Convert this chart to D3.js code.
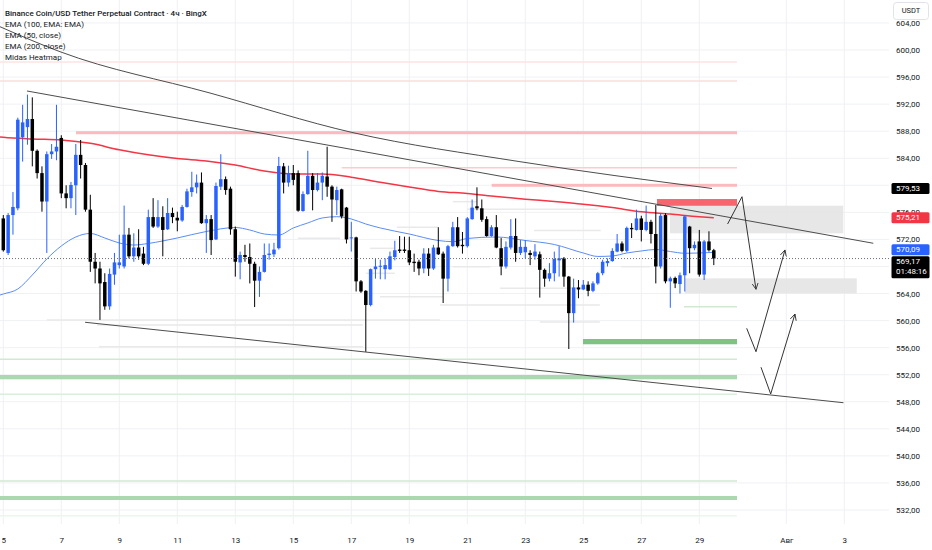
<!DOCTYPE html>
<html>
<head>
<meta charset="utf-8">
<script src="https://cdn.jsdelivr.net/npm/d3@7"></script>
<style>
  body { margin: 0; background: #fff; }
  svg { display: block; font-family: Roboto, "Noto Sans", sans-serif; }
</style>
</head>
<body>
<svg id="chart" width="932" height="550"></svg>
<script>
// 4h candles, first one opens 5 July 00:00 (day value = July date, fractional)
const firstDay = 5
const candleStep = 1 / 6

const opens = [
  575.1, 570.0, 575.6, 576.6, 587.1, 588.6, 589.8, 585.1, 581.8, 577.6,
  584.6, 585.0, 587.0, 578.8, 578.1, 580.0, 584.5, 583.0, 576.4, 568.7,
  567.7, 565.7, 562.1, 566.8, 568.2, 568.0, 572.7, 569.5, 570.8, 569.9,
  568.4, 575.3, 573.9, 575.3, 573.5, 575.9, 575.2, 574.8, 576.8, 579.0,
  579.7, 580.4, 574.4, 575.0, 572.0, 579.8, 580.9, 579.5, 573.5, 568.6,
  569.7, 569.4, 568.4, 565.9, 567.2, 569.7, 569.8, 570.7, 582.8, 580.4,
  581.8, 581.8, 576.2, 578.7, 581.4, 579.3, 580.4, 581.3, 579.8, 577.8,
  579.4, 576.7, 572.2, 572.3, 565.8, 564.4, 562.3, 567.6, 568.0, 567.6,
  567.6, 569.4, 570.5, 570.5, 570.4, 568.7, 568.7, 567.7, 569.9, 567.7,
  570.8, 569.9, 566.2, 571.0, 573.8, 571.2, 571.0, 575.0, 576.9, 576.6,
  575.0, 572.5, 573.8, 570.7, 568.0, 570.8, 572.5, 570.0, 570.1, 570.0,
  569.5, 569.8, 567.5, 566.2, 567.0, 568.9, 569.2, 566.5, 561.1, 564.9,
  564.6, 565.3, 564.4, 565.5, 567.0, 568.5, 568.8, 570.2, 571.4, 570.3,
  573.7, 573.4, 575.1, 573.4, 574.6, 572.8, 568.0, 575.6, 565.8, 566.3,
  565.4, 566.7, 573.9, 570.7, 571.7, 566.8, 571.7, 570.4
]
const highs = [
  575.6, 575.9, 579.0, 590.0, 591.9, 593.4, 593.0, 585.3, 582.8, 585.0,
  586.1, 591.9, 587.4, 580.0, 580.5, 586.1, 586.7, 583.3, 578.6, 570.0,
  568.7, 567.0, 567.7, 570.0, 572.7, 577.0, 573.7, 572.9, 573.5, 570.9,
  576.4, 578.1, 577.8, 576.9, 578.1, 576.7, 576.1, 577.1, 579.5, 582.0,
  581.6, 581.9, 575.6, 575.6, 580.4, 584.6, 581.3, 579.8, 573.9, 570.2,
  571.2, 571.4, 568.7, 568.0, 571.4, 571.4, 571.5, 584.2, 583.3, 582.9,
  583.0, 582.2, 579.1, 585.1, 581.8, 581.8, 581.9, 585.7, 580.0, 579.8,
  579.5, 576.8, 574.6, 572.4, 566.0, 564.5, 567.7, 569.1, 569.0, 569.2,
  570.2, 571.8, 572.5, 572.4, 572.4, 569.9, 569.0, 570.7, 570.7, 571.2,
  573.8, 570.2, 571.2, 574.6, 575.3, 573.1, 575.3, 577.9, 579.7, 577.9,
  575.4, 574.1, 575.6, 572.2, 571.7, 575.0, 575.1, 571.9, 571.9, 570.4,
  571.3, 570.2, 567.7, 568.5, 570.2, 571.0, 569.4, 566.6, 566.2, 566.0,
  566.0, 565.8, 565.8, 567.2, 569.0, 569.2, 570.7, 572.8, 571.7, 573.9,
  574.4, 576.4, 575.5, 577.0, 574.9, 577.1, 575.9, 575.9, 566.5, 566.5,
  567.1, 575.6, 574.0, 571.7, 573.4, 571.9, 573.2, 570.6
]
const lows = [
  570.2, 569.7, 572.7, 576.3, 583.5, 586.0, 582.8, 581.0, 576.1, 570.0,
  583.9, 583.7, 578.1, 576.6, 576.6, 575.6, 581.0, 576.1, 567.2, 565.5,
  560.1, 561.6, 561.6, 565.3, 567.7, 567.7, 569.2, 568.7, 569.0, 568.2,
  568.2, 573.7, 573.7, 569.5, 573.4, 574.4, 573.2, 574.6, 576.7, 578.3,
  578.8, 574.3, 570.0, 569.7, 571.9, 579.3, 578.6, 572.7, 566.5, 566.1,
  568.7, 565.5, 562.0, 563.5, 567.1, 569.0, 569.4, 570.5, 578.8, 579.8,
  580.0, 576.1, 576.1, 578.6, 576.3, 579.1, 577.8, 578.3, 574.6, 575.6,
  575.1, 571.4, 570.2, 564.3, 564.1, 555.4, 562.1, 566.2, 566.1, 566.1,
  567.5, 568.9, 570.0, 570.0, 568.2, 567.2, 566.7, 567.0, 566.6, 567.5,
  569.7, 562.6, 564.3, 570.9, 570.8, 569.9, 570.8, 574.9, 576.3, 574.6,
  572.4, 572.4, 570.7, 566.7, 567.7, 570.5, 568.7, 569.7, 569.2, 568.2,
  569.0, 563.4, 565.0, 565.8, 565.8, 566.5, 565.0, 555.8, 559.7, 563.3,
  564.5, 563.6, 564.2, 565.3, 566.7, 568.0, 568.7, 570.1, 570.1, 570.1,
  572.2, 573.3, 571.7, 573.2, 571.4, 565.5, 567.7, 565.5, 561.9, 564.8,
  564.0, 564.3, 567.0, 570.4, 566.5, 566.0, 570.2, 568.2
]
const closes = [
  570.4, 575.6, 576.8, 589.7, 589.3, 589.8, 585.1, 581.8, 577.6, 584.6,
  585.0, 585.7, 578.8, 578.1, 580.05, 584.5, 583.0, 576.4, 568.7, 567.7,
  565.5, 562.1, 566.9, 568.6, 568.6, 572.7, 569.5, 570.8, 569.5, 568.4,
  575.3, 573.9, 575.3, 573.4, 575.9, 575.3, 574.8, 576.8, 579.1, 579.7,
  580.4, 574.4, 575.0, 571.9, 579.9, 580.9, 579.3, 573.5, 568.7, 569.7,
  569.4, 568.4, 565.9, 567.2, 569.7, 569.9, 570.5, 582.85, 580.4, 581.8,
  580.8, 576.25, 578.7, 581.4, 579.3, 580.4, 581.4, 579.8, 577.9, 579.3,
  575.4, 572.0, 572.3, 565.8, 564.3, 562.3, 567.6, 568.0, 568.1, 568.2,
  569.5, 570.4, 570.3, 570.3, 568.6, 568.5, 567.7, 569.9, 567.7, 570.8,
  569.8, 566.2, 571.0, 573.8, 571.0, 571.0, 575.1, 576.7, 576.6, 574.9,
  572.5, 573.8, 570.8, 568.0, 570.9, 572.5, 570.0, 570.9, 570.9, 569.7,
  570.2, 567.5, 566.2, 567.0, 569.1, 569.2, 566.5, 561.1, 564.9, 564.6,
  565.3, 564.4, 565.5, 567.0, 568.7, 568.8, 570.3, 571.4, 570.3, 573.7,
  573.5, 575.1, 573.4, 574.6, 572.8, 568.0, 575.5, 565.8, 566.25, 565.5,
  566.7, 575.4, 570.7, 571.2, 566.8, 571.7, 570.4, 569.17
]

// EMA lines: [day, price]
const ema50 = [
  [4.886, 563.78], [5, 563.93], [5.5, 564.67], [6, 566.74], [6.5, 569.11], [7, 571.03],
  [7.5, 572.36], [8, 572.88], [8.5, 572.21], [9, 571.47], [9.5, 571.17], [10, 571.4],
  [10.5, 571.77], [11, 572.21], [12, 573.17], [13, 573.76], [13.5, 573.39], [14, 572.8],
  [14.5, 572.65], [15, 573.69], [15.5, 574.43], [16, 575.17], [16.5, 575.36], [17, 575.02],
  [17.5, 574.28], [18, 573.69], [19, 572.8], [20, 571.84], [20.5, 571.66], [21, 572.14],
  [22, 572.36], [23, 571.84], [24, 571.25], [25, 569.99], [25.5, 569.48], [26, 569.55],
  [26.5, 569.99], [27, 570.29], [27.5, 570.51], [28, 570.21], [28.5, 569.95], [29, 569.99],
  [29.5, 570.09]
]
const ema200 = [
  [4.886, 587.15], [5, 587.1], [6, 586.85], [7, 586.7], [8, 586.2], [9, 585.25],
  [10, 584.5], [11, 583.95], [12, 583.6], [13, 583.0], [14, 582.1], [15, 581.67],
  [16, 581.67], [17, 581.2], [18, 580.45], [19, 579.75], [20, 579.1], [21, 578.8],
  [22, 578.35], [23, 577.95], [24, 577.6], [25, 577.2], [26, 576.7], [27, 576.1],
  [28, 575.75], [29, 575.35], [29.5, 575.21]
]

// drawn trend lines and arrows: [day, price]
const upperLine = [[4.886, 603.44], [6.955, 599.75], [12.128, 593.64], [17.059, 587.78], [22.817, 583.49], [29.438, 579.53]]
const channelTop = [[5.817, 593.94], [35.0, 571.43]]
const channelBottom = [[7.82, 559.75], [33.97, 547.86]]
const arrows = [
  [[29.976, 574.28], [30.472, 578.31], [30.955, 564.63]],
  [[30.634, 558.86], [30.955, 555.40], [31.955, 570.44]],
  [[31.128, 553.10], [31.462, 549.15], [32.300, 560.97]]
]
const grayZones = [[27.99, 33.96, 572.90, 576.98], [28.50, 34.43, 564.03, 566.25]]

// Midas heatmap levels: [fromDay, toDay, priceLow, priceHigh, strength]
const redBands = [
  [7.507, 30.3, 587.55, 588.0, 2], [21.84, 30.3, 579.78, 580.22, 2], [27.54, 30.3, 576.94, 577.97, 4]
]
const redLines = [[4.886, 30.3, 598.23, 1], [4.886, 30.3, 595.42, 1.2], [16.67, 30.3, 582.6, 1.6]]
const greenBands = [
  [24.99, 30.3, 556.5, 557.28, 3], [4.886, 30.3, 551.32, 551.96, 2], [4.886, 30.3, 533.48, 534.07, 2]
]
const greenLines = [
  [28.47, 30.3, 562.05, 1.2], [4.886, 30.3, 554.28, 1.2], [4.886, 30.3, 549.1, 1],
  [4.886, 30.3, 536.29, 1.2], [4.886, 30.3, 531.16, 0.6]
]
const ghostLevels = [
  [6.5, 20.06, 560.09], [8.23, 17.4, 559.35], [8.3, 17.4, 556.14], [17.99, 20.16, 563.53],
  [17.5, 18.5, 566.99], [18.57, 19.99, 573.79], [17.64, 18.5, 570.68], [15.16, 16.61, 572.16],
  [20.5, 21.33, 577.58], [21.0, 25.5, 576.45], [23.3, 25.6, 573.3], [20.5, 21.8, 567.97],
  [22.13, 25.23, 564.77], [20.06, 25.57, 562.3], [23.5, 25.57, 559.8], [26.3, 27.3, 567.97]
]

const priceTicks = d3.range(532, 605, 4)
const dayTicks = [5, 7, 9, 11, 13, 15, 17, 19, 21, 23, 25, 27, 29, 32, 34]
const dayLabels = ['5', '7', '9', '11', '13', '15', '17', '19', '21', '23', '25', '27', '29', 'Авг', '3']
const legendLines = ['EMA (100, EMA: EMA)', 'EMA (50, close)', 'EMA (200, close)', 'Midas Heatmap']
const title = 'Binance Coin/USD Tether Perpetual Contract · 4ч · BingX'
const lastPrice = closes[closes.length - 1]
const countdown = '01:48:16'

const plotW = 889, plotH = 524
const svg = d3.select('#chart')
const x = d3.scaleLinear().domain([5, 34]).range([3.3, 844.3])
const y = d3.scaleLinear().domain([532, 600]).range([510, 50])
const fmt = v => d3.format('.2f')(v).replace('.', ',')
const redColor = d3.scaleLinear().domain([1, 4]).range(['#fde4e4', '#f6666f'])
const greenColor = d3.scaleLinear().domain([0.6, 3]).range(['#edf6ed', '#7ec382'])

svg.append('defs').append('clipPath').attr('id', 'plot')
  .append('rect').attr('width', plotW).attr('height', plotH)
svg.select('defs').append('marker')
  .attr('id', 'head').attr('viewBox', '0 0 8 8').attr('refX', 7).attr('refY', 4)
  .attr('markerWidth', 7).attr('markerHeight', 7).attr('markerUnits', 'userSpaceOnUse')
  .attr('orient', 'auto')
  .append('path').attr('d', 'M0,0.5 L7,4 L0,7.5').attr('fill', 'none')
  .attr('stroke', '#333').attr('stroke-width', 1)

const g = svg.append('g').attr('clip-path', 'url(#plot)')

// grid
g.selectAll('.hgrid').data(priceTicks).join('line')
  .attr('x1', 0).attr('x2', plotW).attr('y1', d => y(d)).attr('y2', d => y(d))
  .attr('stroke', '#f0f1f4').attr('stroke-width', 1)
g.selectAll('.vgrid').data(dayTicks).join('line')
  .attr('x1', d => x(d)).attr('x2', d => x(d)).attr('y1', 0).attr('y2', plotH)
  .attr('stroke', '#f0f1f4').attr('stroke-width', 1)

// heatmap
g.selectAll('.ghost').data(ghostLevels).join('line')
  .attr('x1', d => x(d[0])).attr('x2', d => x(d[1])).attr('y1', d => y(d[2])).attr('y2', d => y(d[2]))
  .attr('stroke', '#e9e9e9').attr('stroke-width', 1.5)
g.selectAll('.rline').data(redLines).join('line')
  .attr('x1', d => x(d[0])).attr('x2', d => x(d[1])).attr('y1', d => y(d[2])).attr('y2', d => y(d[2]))
  .attr('stroke', d => redColor(d[3])).attr('stroke-width', 1.6)
g.selectAll('.gline').data(greenLines).join('line')
  .attr('x1', d => x(d[0])).attr('x2', d => x(d[1])).attr('y1', d => y(d[2])).attr('y2', d => y(d[2]))
  .attr('stroke', d => greenColor(d[3])).attr('stroke-width', 1.6)
g.selectAll('.rband').data(redBands).join('rect')
  .attr('x', d => x(d[0])).attr('width', d => x(d[1]) - x(d[0]))
  .attr('y', d => y(d[3])).attr('height', d => y(d[2]) - y(d[3]))
  .attr('fill', d => redColor(d[4]))
g.selectAll('.gband').data(greenBands).join('rect')
  .attr('x', d => x(d[0])).attr('width', d => x(d[1]) - x(d[0]))
  .attr('y', d => y(d[3])).attr('height', d => y(d[2]) - y(d[3]))
  .attr('fill', d => greenColor(d[4]))

g.selectAll('.zone').data(grayZones).join('rect')
  .attr('x', d => x(d[0])).attr('width', d => x(d[1]) - x(d[0]))
  .attr('y', d => y(d[3])).attr('height', d => y(d[2]) - y(d[3]))
  .attr('fill', '#e3e3e3').attr('opacity', 0.85)

// trend lines
const line = d3.line().x(d => x(d[0])).y(d => y(d[1]))
g.append('path').datum(upperLine).attr('d', line.curve(d3.curveMonotoneX))
  .attr('fill', 'none').attr('stroke', '#4d4d4d').attr('stroke-width', 1)
line.curve(d3.curveLinear)
;[channelTop, channelBottom].forEach(pts => {
  g.append('path').datum(pts).attr('d', line)
    .attr('fill', 'none').attr('stroke', '#4d4d4d').attr('stroke-width', 1)
})

// EMAs
const smooth = d3.line().x(d => x(d[0])).y(d => y(d[1])).curve(d3.curveMonotoneX)
g.append('path').datum(ema200).attr('d', smooth)
  .attr('fill', 'none').attr('stroke', '#f23645').attr('stroke-width', 1.5)
g.append('path').datum(ema50).attr('d', smooth)
  .attr('fill', 'none').attr('stroke', '#5b8cf6').attr('stroke-width', 1)

// candles
const candles = opens.map((o, i) => ({
  day: firstDay + i * candleStep, o, h: highs[i], l: lows[i], c: closes[i]
}))
const bw = (x(firstDay + candleStep) - x(firstDay)) * 0.72
const cg = g.selectAll('.candle').data(candles).join('g')
  .attr('fill', d => d.c >= d.o ? '#2962ff' : '#000')
  .attr('stroke', d => d.c >= d.o ? '#2962ff' : '#000')
cg.append('line')
  .attr('x1', d => x(d.day)).attr('x2', d => x(d.day))
  .attr('y1', d => y(d.h)).attr('y2', d => y(d.l)).attr('stroke-width', 1)
cg.append('rect')
  .attr('x', d => x(d.day) - bw / 2).attr('width', bw)
  .attr('y', d => y(Math.max(d.o, d.c)))
  .attr('height', d => Math.max(1, Math.abs(y(d.o) - y(d.c))))
  .attr('stroke', 'none')

// last price line
g.append('line').attr('x1', 0).attr('x2', plotW)
  .attr('y1', y(lastPrice)).attr('y2', y(lastPrice))
  .attr('stroke', '#6a6d78').attr('stroke-width', 1).attr('stroke-dasharray', '1,2')

// arrows
arrows.forEach(pts => {
  g.append('path').datum(pts).attr('d', line)
    .attr('fill', 'none').attr('stroke', '#333').attr('stroke-width', 1)
    .attr('marker-end', 'url(#head)')
})

// legend
const leg = svg.append('g').attr('transform', 'translate(5,0)')
leg.append('text').attr('y', 13.5).attr('dominant-baseline', 'middle')
  .attr('font-size', 8).attr('font-weight', 500).attr('fill', '#131722').text(title)
leg.selectAll('.lg').data(legendLines).join('text')
  .attr('y', (d, i) => 25 + i * 11.1).attr('dominant-baseline', 'middle')
  .attr('font-size', 8).attr('fill', '#131722').text(d => d)

// axes
const yAxis = svg.append('g').attr('transform', `translate(${plotW},0)`)
  .call(d3.axisRight(y).tickValues(priceTicks).tickFormat(fmt).tickSize(0).tickPadding(7))
yAxis.select('.domain').remove()
yAxis.selectAll('text').attr('font-size', 8).attr('fill', '#131722').attr('font-family', 'Roboto')

const xAxis = svg.append('g').attr('transform', 'translate(0,530)')
  .call(d3.axisBottom(x).tickValues(dayTicks).tickFormat((d, i) => dayLabels[i]).tickSize(0).tickPadding(7))
xAxis.select('.domain').remove()
xAxis.selectAll('text').attr('font-size', 8).attr('fill', '#131722').attr('font-family', 'Roboto')

// price labels on the scale
function tag(cy, fill, h) {
  const t = svg.append('g')
  t.append('rect').attr('x', 891.5).attr('y', cy - 5.5).attr('width', 38).attr('height', h || 11)
    .attr('rx', 1.5).attr('fill', fill)
  return t
}
const tagText = (t, cy, txt) => t.append('text').attr('x', 896).attr('y', cy)
  .attr('dominant-baseline', 'middle').attr('font-size', 8).attr('fill', '#fff').text(txt)

const topVal = upperLine[upperLine.length - 1][1]
const topY = y(topVal)
tagText(tag(topY, '#000'), topY, fmt(topVal))
const redVal = ema200[ema200.length - 1][1]
const redY = y(redVal)
tagText(tag(redY, '#f23645'), redY, fmt(redVal))
const blueVal = ema50[ema50.length - 1][1]
const blueY = y(blueVal) - 2.5
tagText(tag(blueY, '#2962ff'), blueY, fmt(blueVal))
const lastY = blueY + 12
const lt = tag(lastY, '#000', 22)
tagText(lt, lastY, fmt(lastPrice))
tagText(lt, lastY + 10.5, countdown)

// currency button
svg.append('rect').attr('x', 893.5).attr('y', 2.5).attr('width', 35).attr('height', 17)
  .attr('rx', 3).attr('fill', '#fff').attr('stroke', '#e0e3eb')
svg.append('text').attr('x', 911).attr('y', 11.5).attr('text-anchor', 'middle')
  .attr('dominant-baseline', 'middle').attr('font-size', 7.5).attr('fill', '#131722').text('USDT')
</script>
</body>
</html>
